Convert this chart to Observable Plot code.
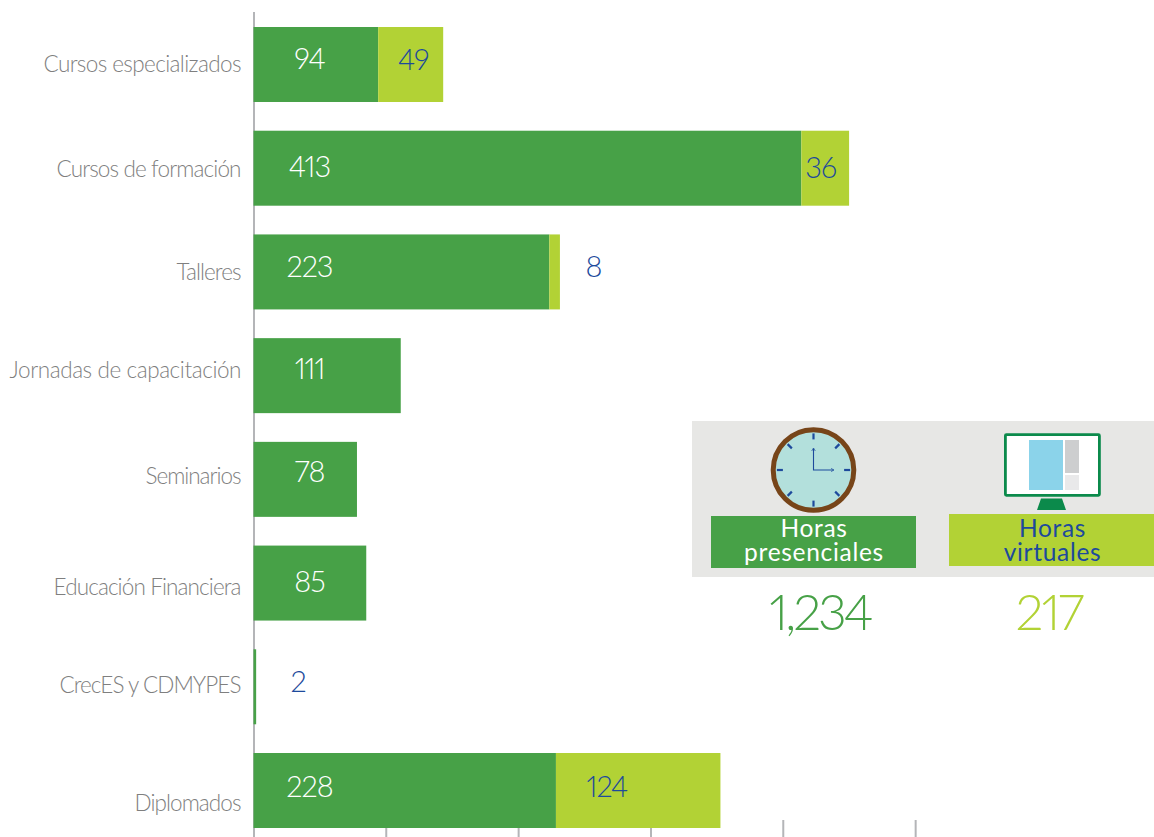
<!DOCTYPE html>
<html><head><meta charset="utf-8">
<script src="https://cdn.jsdelivr.net/npm/d3@7"></script>
<script src="https://cdn.jsdelivr.net/npm/@observablehq/plot@0.6"></script>
<style>html,body{margin:0;padding:0;background:#fff}svg{display:block}
text{font-variant-numeric:proportional-nums;font-feature-settings:"pnum" 1,"lnum" 1}
.num text{letter-spacing:-1px}
</style>
</head><body><div id="chart"></div>
<script>
const categories = ["Cursos especializados","Cursos de formación","Talleres","Jornadas de capacitación","Seminarios","Educación Financiera","CrecES y CDMYPES","Diplomados"];
const presenciales = [94,413,223,111,78,85,2,228];
const virtuales = [49,36,8,0,0,0,0,124];
const xTicks = [0,99.7,199.5,299.3,399,498.8];
const totals = {presenciales:"1,234", virtuales:"217"};

const GREEN="#47a147", LIME="#b2d235", BLUE="#1d4a9c", GRAY="#b4b5b8", LABEL="#7f7f7f";
const FONT="Lato, 'Open Sans', sans-serif";

// label placement (px, relative to the bar each one belongs to)
const catDy = [0,1.3,0.6,-5.1,-2.8,4.5,-1.2,13.1];
const catWidth = [198,185,65,232,96,188,182,107];
const presDy = [-5,-0.7,-4.4,-6.1,-6.8,-1,-4.2,-2.9];
const presDx = [55.5,55.5,55.5,55.5,55.5,55.5,44,55.5];
const virtPos = [[-30.5,-4],[-29,0.3],[33,-4.4],null,null,null,null,[-114,-2.9]];

const rows = [
  ...categories.map((c,i)=>({cat:c,tipo:"Horas presenciales",value:presenciales[i]})),
  ...categories.map((c,i)=>({cat:c,tipo:"Horas virtuales",value:virtuales[i]}))
].filter(d=>d.value>0);

const catLabels = categories.map((c,i)=>Plot.text([c],{
  x:()=>0,y:d=>d,text:d=>d,textAnchor:"end",dx:-12.5,dy:catDy[i],
  fill:LABEL,fontSize:22.5,fontWeight:300,className:"cat"
}));
const presLabels = categories.map((c,i)=>Plot.text([presenciales[i]],{
  x:()=>0,y:()=>c,text:d=>String(d),dx:presDx[i],dy:presDy[i],
  fill:presenciales[i]<10?BLUE:"#fff",fontSize:29,fontWeight:300,className:"num"
}));
const virtLabels = categories.flatMap((c,i)=>virtPos[i]?[Plot.text([virtuales[i]],{
  x:()=>presenciales[i]+virtuales[i],y:()=>c,text:d=>String(d),dx:virtPos[i][0],dy:virtPos[i][1],
  fill:BLUE,fontSize:29,fontWeight:300,className:"num"
})]:[]);

function panel(){
  const g=d3.create("svg:g");
  const rect=(x,y,w,h,fill,rx=0)=>g.append("rect").attr("x",x).attr("y",y).attr("width",w).attr("height",h).attr("fill",fill).attr("rx",rx);
  const txt=(s,x,y,size,fill,weight)=>g.append("text").text(s).attr("x",x).attr("y",y).attr("text-anchor","middle")
    .attr("font-size",size).attr("fill",fill).attr("font-weight",weight);
  const two=(a,b,x,y1,y2,size,fill)=>{const t=g.append("text").attr("text-anchor","middle").attr("font-size",size).attr("fill",fill).attr("letter-spacing",0.7);
    t.append("tspan").attr("x",x).attr("y",y1).text(a);t.append("tspan").attr("x",x).attr("y",y2).text(b);};
  rect(692,421,462,156,"#e7e7e5");
  // clock
  const cx=813.5,cy=470;
  g.append("circle").attr("cx",cx).attr("cy",cy).attr("r",40.3).attr("fill","#b3e0dc").attr("stroke","#774519").attr("stroke-width",5);
  d3.range(8).forEach(k=>{const a=k*Math.PI/4,s=Math.sin(a),c=Math.cos(a);
    g.append("line").attr("x1",cx+30.6*s).attr("y1",cy-30.6*c).attr("x2",cx+36.6*s).attr("y2",cy-36.6*c)
     .attr("stroke",BLUE).attr("stroke-width",2.2);});
  g.append("path").attr("d",`M${cx} ${cy-21.5}V${cy}H${cx+20}`).attr("fill","none").attr("stroke",BLUE).attr("stroke-width",1.1);
  g.append("path").attr("d",`M${cx-1.8} ${cy-19}L${cx} ${cy-22}L${cx+1.8} ${cy-19}M${cx+17.5} ${cy-1.6}L${cx+20.5} ${cy}L${cx+17.5} ${cy+1.6}`).attr("fill","none").attr("stroke",BLUE).attr("stroke-width",.7);
  // monitor
  g.append("path").attr("d","M1041 498.5H1062L1066 510H1037Z").attr("fill","#0b8a4b");
  g.append("rect").attr("x",1005.4).attr("y",434.7).attr("width",94).attr("height",60.6).attr("rx",1).attr("fill","#fff").attr("stroke","#0b8a4b").attr("stroke-width",2.8);
  rect(1029,440,34,50,"#8bd3ea");
  rect(1065,440,14,33,"#cdcecf");
  rect(1065,475,14,15,"#e9e9ea");
  // captions
  rect(711,516,205,52,GREEN);
  rect(949,514,205,52,LIME);
  two("Horas","presenciales",814,537,561,24.5,"#fff");
  two("Horas","virtuales",1052.5,537,561,24.5,BLUE);
  txt(totals.presenciales,820,630,50,GREEN,300).attr("letter-spacing",-3);
  txt(totals.virtuales,1049,630,50,LIME,300).attr("letter-spacing",-2);
  return g.node();
}

const chart = Plot.plot({
  width:1154,height:837,
  marginLeft:253.5,marginRight:0,marginTop:12,marginBottom:17,
  style:{fontFamily:FONT,background:"#fff",overflow:"visible"},
  x:{domain:[0,(1154-253.5)/1.3265],axis:null},
  y:{domain:categories,range:[27,828],paddingInner:0.277,paddingOuter:0,round:false,axis:null},
  color:{domain:["Horas presenciales","Horas virtuales"],range:[GREEN,LIME]},
  marks:[
    Plot.axisX({ticks:xTicks,tickSize:17,tickFormat:()=>"",stroke:GRAY,strokeWidth:2,strokeOpacity:1,label:null}),
    Plot.ruleX([0],{stroke:GRAY,strokeWidth:2,insetBottom:-17}),
    Plot.barX(rows,{x:"value",y:"cat",fill:"tipo"}),
    ...catLabels,...presLabels,...virtLabels,
    panel
  ]
});
document.getElementById("chart").append(chart);
// fit each category label to the width it has in the reference
d3.select(chart).selectAll(".cat text").each(function(){
  const i=categories.indexOf(this.textContent);
  if(i>=0){this.setAttribute("textLength",catWidth[i]);this.setAttribute("lengthAdjust","spacing");}
});
</script></body></html>
